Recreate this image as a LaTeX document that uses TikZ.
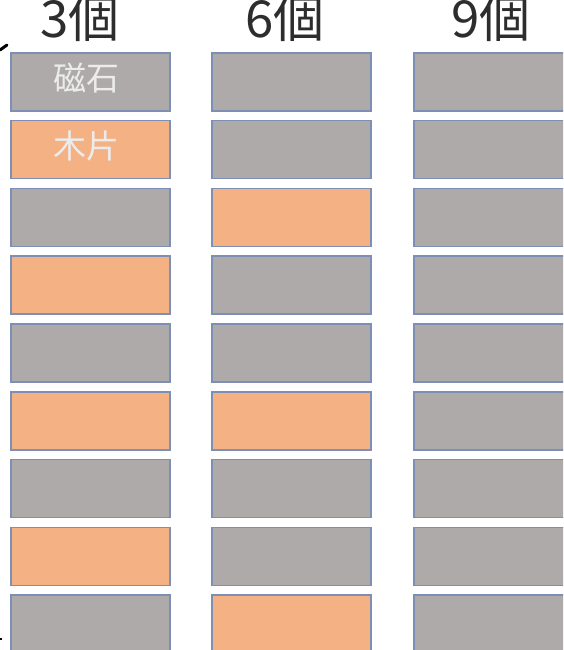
\documentclass[tikz,border=0pt]{standalone}
\usepackage{fontspec}
\newfontfamily\jp{Noto Sans CJK JP}
\definecolor{boxgray}{RGB}{174,170,169}
\definecolor{boxorange}{RGB}{244,177,131}
\definecolor{boxedge}{RGB}{125,143,180}
\definecolor{lighttext}{RGB}{236,236,236}
\definecolor{headtext}{RGB}{45,45,45}
\tikzset{
  cell/.style={draw=boxedge, line width=1.6pt, minimum width=159pt, minimum height=58pt, inner sep=0pt, anchor=north west},
  G/.style={cell, fill=boxgray},
  O/.style={cell, fill=boxorange},
  head/.style={font=\jp\fontsize{51}{51}\selectfont, text=headtext, anchor=base, inner sep=0pt},
  intext/.style={font=\jp\fontsize{33}{33}\selectfont, text=lighttext, inner sep=0pt}
}
\begin{document}
\begin{tikzpicture}[x=1pt,y=-1pt]
\useasboundingbox (0,0) rectangle (563,650);
\clip (0,0) rectangle (563,650);
\fill[white] (0,0) rectangle (563,650);
% column 1
\foreach \i/\s in {0/G,1/O,2/G,3/O,4/G,5/O,6/G,7/O,8/G}{
  \node[\s] (a\i) at (10,{52+67.8*\i}) {};
}
% column 2
\foreach \i/\s in {0/G,1/G,2/O,3/G,4/G,5/O,6/G,7/G,8/O}{
  \node[\s] (b\i) at (211,{52+67.8*\i}) {};
}
% column 3
\foreach \i in {0,...,8}{
  \node[G] (c\i) at (413,{52+67.8*\i}) {};
}
\node[head] (h1) at (80,38) {3個};
\node[head] (h2) at (285,38) {6個};
\node[head] (h3) at (491,38) {9個};
\node[intext] (t1) at (86,78) {磁石};
\node[intext] (t2) at (86,146) {木片};
% cut-off black fragments at the left edge
\coordinate (m1) at (0,50);
\coordinate (m2) at (7,45);
\draw[black, line width=3pt, line cap=round] (m1) -- (m2);
\coordinate (m3) at (0,639);
\coordinate (m4) at (2,639);
\draw[black, line width=2pt] (m3) -- (m4);
\end{tikzpicture}
\end{document}
